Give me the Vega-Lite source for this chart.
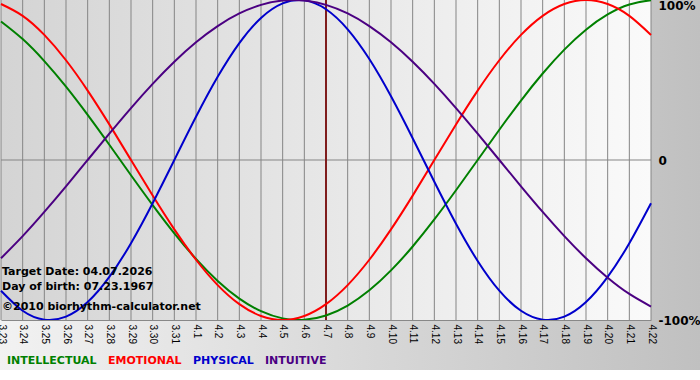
{
  "$schema": "https://vega.github.io/schema/vega-lite/v6.json",
  "width": 650,
  "height": 320,
  "autosize": {"type": "none"},
  "padding": {"left": 1, "top": 0, "right": 49, "bottom": 60},
  "background": "#ffffff",
  "config": {"view": {"stroke": null}, "axis": {"labelOverlap": false}, "axisX": {"labelOverlap": false, "labelFlush": false}},
  "data": {"values": [
    {"day": 0, "INTELLECTUAL": 0.866, "EMOTIONAL": 0.9749, "PHYSICAL": -0.817, "INTUITIVE": -0.6142},
    {"day": 1, "INTELLECTUAL": 0.7557, "EMOTIONAL": 0.901, "PHYSICAL": -0.9423, "INTUITIVE": -0.4759},
    {"day": 2, "INTELLECTUAL": 0.6182, "EMOTIONAL": 0.7818, "PHYSICAL": -0.9977, "INTUITIVE": -0.3247},
    {"day": 3, "INTELLECTUAL": 0.4582, "EMOTIONAL": 0.6235, "PHYSICAL": -0.9791, "INTUITIVE": -0.1646},
    {"day": 4, "INTELLECTUAL": 0.2817, "EMOTIONAL": 0.4339, "PHYSICAL": -0.8879, "INTUITIVE": 0},
    {"day": 5, "INTELLECTUAL": 0.0951, "EMOTIONAL": 0.2225, "PHYSICAL": -0.7308, "INTUITIVE": 0.1646},
    {"day": 6, "INTELLECTUAL": -0.0951, "EMOTIONAL": 0, "PHYSICAL": -0.5196, "INTUITIVE": 0.3247},
    {"day": 7, "INTELLECTUAL": -0.2817, "EMOTIONAL": -0.2225, "PHYSICAL": -0.2698, "INTUITIVE": 0.4759},
    {"day": 8, "INTELLECTUAL": -0.4582, "EMOTIONAL": -0.4339, "PHYSICAL": 0, "INTUITIVE": 0.6142},
    {"day": 9, "INTELLECTUAL": -0.6182, "EMOTIONAL": -0.6235, "PHYSICAL": 0.2698, "INTUITIVE": 0.7357},
    {"day": 10, "INTELLECTUAL": -0.7557, "EMOTIONAL": -0.7818, "PHYSICAL": 0.5196, "INTUITIVE": 0.8372},
    {"day": 11, "INTELLECTUAL": -0.866, "EMOTIONAL": -0.901, "PHYSICAL": 0.7308, "INTUITIVE": 0.9158},
    {"day": 12, "INTELLECTUAL": -0.945, "EMOTIONAL": -0.9749, "PHYSICAL": 0.8879, "INTUITIVE": 0.9694},
    {"day": 13, "INTELLECTUAL": -0.9898, "EMOTIONAL": -1, "PHYSICAL": 0.9791, "INTUITIVE": 0.9966},
    {"day": 14, "INTELLECTUAL": -0.9989, "EMOTIONAL": -0.9749, "PHYSICAL": 0.9977, "INTUITIVE": 0.9966},
    {"day": 15, "INTELLECTUAL": -0.9718, "EMOTIONAL": -0.901, "PHYSICAL": 0.9423, "INTUITIVE": 0.9694},
    {"day": 16, "INTELLECTUAL": -0.9096, "EMOTIONAL": -0.7818, "PHYSICAL": 0.817, "INTUITIVE": 0.9158},
    {"day": 17, "INTELLECTUAL": -0.8146, "EMOTIONAL": -0.6235, "PHYSICAL": 0.6311, "INTUITIVE": 0.8372},
    {"day": 18, "INTELLECTUAL": -0.6901, "EMOTIONAL": -0.4339, "PHYSICAL": 0.3984, "INTUITIVE": 0.7357},
    {"day": 19, "INTELLECTUAL": -0.5406, "EMOTIONAL": -0.2225, "PHYSICAL": 0.1362, "INTUITIVE": 0.6142},
    {"day": 20, "INTELLECTUAL": -0.3717, "EMOTIONAL": 0, "PHYSICAL": -0.1362, "INTUITIVE": 0.4759},
    {"day": 21, "INTELLECTUAL": -0.1893, "EMOTIONAL": 0.2225, "PHYSICAL": -0.3984, "INTUITIVE": 0.3247},
    {"day": 22, "INTELLECTUAL": 0, "EMOTIONAL": 0.4339, "PHYSICAL": -0.6311, "INTUITIVE": 0.1646},
    {"day": 23, "INTELLECTUAL": 0.1893, "EMOTIONAL": 0.6235, "PHYSICAL": -0.817, "INTUITIVE": 0},
    {"day": 24, "INTELLECTUAL": 0.3717, "EMOTIONAL": 0.7818, "PHYSICAL": -0.9423, "INTUITIVE": -0.1646},
    {"day": 25, "INTELLECTUAL": 0.5406, "EMOTIONAL": 0.901, "PHYSICAL": -0.9977, "INTUITIVE": -0.3247},
    {"day": 26, "INTELLECTUAL": 0.6901, "EMOTIONAL": 0.9749, "PHYSICAL": -0.9791, "INTUITIVE": -0.4759},
    {"day": 27, "INTELLECTUAL": 0.8146, "EMOTIONAL": 1, "PHYSICAL": -0.8879, "INTUITIVE": -0.6142},
    {"day": 28, "INTELLECTUAL": 0.9096, "EMOTIONAL": 0.9749, "PHYSICAL": -0.7308, "INTUITIVE": -0.7357},
    {"day": 29, "INTELLECTUAL": 0.9718, "EMOTIONAL": 0.901, "PHYSICAL": -0.5196, "INTUITIVE": -0.8372},
    {"day": 30, "INTELLECTUAL": 0.9989, "EMOTIONAL": 0.7818, "PHYSICAL": -0.2698, "INTUITIVE": -0.9158}
  ]},
  "layer": [
    {
      "data": {"values": [{}]},
      "mark": {"type": "rect", "clip": false, "fill": {"gradient": "linear", "x1": 0, "y1": 0, "x2": 1, "y2": 0, "stops": [{"offset": 0, "color": "#f2f2f2"}, {"offset": 1, "color": "#c0c0c0"}]}},
      "encoding": {
        "x": {"datum": -0.05, "type": "quantitative", "scale": {"domain": [0, 30], "nice": false, "zero": false}, "axis": {"tickCount": 30, "labelExpr": "datum.value < 9 ? '3.' + (23 + datum.value) : '4.' + (datum.value - 8)", "labelAngle": 90, "labelFont": "Liberation Sans", "labelFontSize": 10, "labelColor": "#000000", "labelPadding": 4, "labelFlush": false, "labelOverlap": false, "labelBound": false, "ticks": false, "grid": false, "domain": true, "domainColor": "#888888", "title": null, "zindex": 1}},
        "x2": {"datum": 32.3},
        "y": {"datum": 1, "type": "quantitative", "scale": {"domain": [-1, 1], "nice": false, "zero": false}, "axis": {"orient": "right", "values": [1, 0, -1], "labelExpr": "datum.value == 1 ? '100%' : (datum.value == 0 ? '0' : '-100%')", "labelFont": "DejaVu Sans", "labelFontWeight": "bold", "labelFontSize": 12, "labelColor": "#000000", "labelPadding": 7, "labelFlush": false, "labelBaseline": {"condition": {"test": "datum.value == 1", "value": "top"}, "value": "middle"}, "ticks": false, "grid": false, "domain": false, "title": null, "zindex": 1}},
        "y2": {"datum": -1.3125}
      }
    },
    {
      "data": {"values": [{}]},
      "mark": {"type": "rect", "fill": {"gradient": "linear", "x1": 0, "y1": 0, "x2": 1, "y2": 0, "stops": [{"offset": 0, "color": "#d4d4d4"}, {"offset": 1, "color": "#fafafa"}]}},
      "encoding": {}
    },
    {
      "mark": {"type": "rule", "color": "#858585", "strokeWidth": 1},
      "encoding": {"x": {"field": "day", "type": "quantitative"}}
    },
    {
      "data": {"values": [{}]},
      "mark": {"type": "rule", "color": "#858585", "strokeWidth": 1},
      "encoding": {"y": {"datum": 0}}
    },
    {
      "data": {"values": [{}]},
      "mark": {"type": "rule", "color": "#7f1d1d", "strokeWidth": 2},
      "encoding": {"x": {"datum": 15}}
    },
    {
      "transform": [{"fold": ["INTELLECTUAL", "EMOTIONAL", "PHYSICAL", "INTUITIVE"], "as": ["series", "value"]}],
      "mark": {"type": "line", "interpolate": "natural", "strokeWidth": 2},
      "encoding": {
        "x": {"field": "day", "type": "quantitative"},
        "y": {"field": "value", "type": "quantitative"},
        "color": {
          "field": "series", "type": "nominal",
          "scale": {"domain": ["INTELLECTUAL", "EMOTIONAL", "PHYSICAL", "INTUITIVE"], "range": ["#008000", "#ff0000", "#0000cc", "#4b0082"]},
          "legend": {"orient": "none", "legendX": -5, "legendY": 355, "direction": "horizontal", "title": null, "symbolSize": 0.01, "symbolStrokeWidth": 0, "symbolOpacity": 0, "labelOffset": 0, "columnPadding": -1, "labelFont": "DejaVu Sans", "labelFontWeight": "bold", "labelFontSize": 11, "labelColor": {"expr": "scale('color', datum.value)"}}
        }
      }
    },
    {
      "data": {"values": [{"note": "Target Date: 04.07.2026"}]},
      "mark": {"type": "text", "align": "left", "baseline": "middle", "dx": 1, "font": "DejaVu Sans", "fontWeight": "bold", "fontSize": 11, "color": "#000000"},
      "encoding": {"x": {"datum": 0}, "y": {"datum": -0.698}, "text": {"field": "note"}}
    },
    {
      "data": {"values": [{"note": "Day of birth: 07.23.1967"}]},
      "mark": {"type": "text", "align": "left", "baseline": "middle", "dx": 1, "font": "DejaVu Sans", "fontWeight": "bold", "fontSize": 11, "color": "#000000"},
      "encoding": {"x": {"datum": 0}, "y": {"datum": -0.796}, "text": {"field": "note"}}
    },
    {
      "data": {"values": [{"note": "©2010 biorhythm-calculator.net"}]},
      "mark": {"type": "text", "align": "left", "baseline": "middle", "dx": 1, "font": "DejaVu Sans", "fontWeight": "bold", "fontSize": 11, "color": "#000000"},
      "encoding": {"x": {"datum": 0}, "y": {"datum": -0.921}, "text": {"field": "note"}}
    }
  ]
}
